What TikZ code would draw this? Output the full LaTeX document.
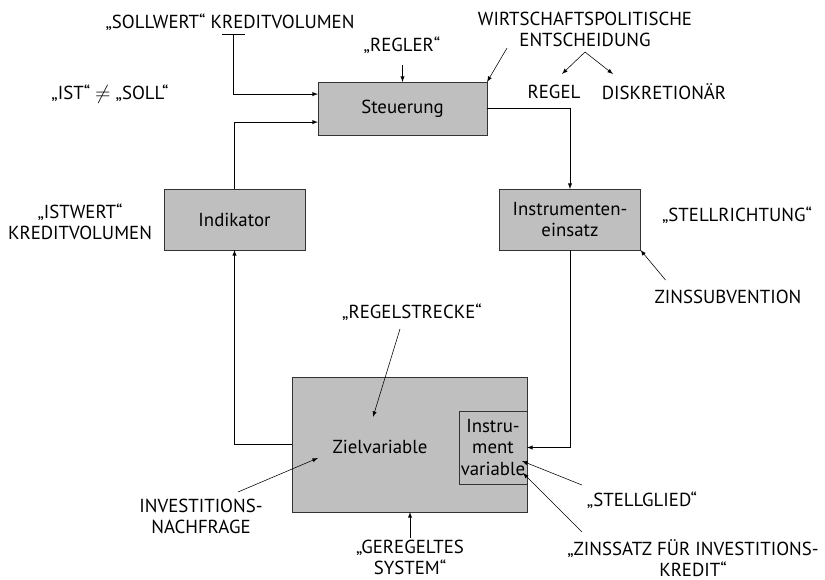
\documentclass[tikz,border=0pt]{standalone}
\usepackage{amsmath}
\usepackage{fontspec}
\setmainfont{PT Sans}
\usetikzlibrary{arrows}
\tikzset{>=latex}
\tikzset{
  blockbox/.style={draw=black!80,fill=gray!50,inner sep=0pt,outer sep=0pt,align=center},
  lbl/.style={inner sep=1pt,align=center}
}
\begin{document}
\begin{tikzpicture}[x=0.025cm,y=-0.025cm,font=\fontsize{13.4}{15}\selectfont]
                    \useasboundingbox (0,0) rectangle (825,580);
                    % Bloecke
                    \node[blockbox,minimum width=4.225cm,minimum height=1.325cm] (steuerung) at (402.5,108.5) {Steuerung};
                    \node[blockbox,minimum width=3.525cm,minimum height=1.525cm] (indikator) at (234.5,219.5) {Indikator};
                    \node[blockbox,minimum width=3.525cm,minimum height=1.525cm] (einsatz) at (570,219.5) {Instrumenten-\\einsatz};
                    \node[blockbox,minimum width=5.875cm,minimum height=3.375cm] (strecke) at (409.5,444.5) {\phantom{x}};
                    \node[blockbox,minimum width=1.7cm,minimum height=1.825cm] (instrvar) at (493,447.5) {Instru-\\ment\\variable};
                    \node[lbl] (zielvar) at (380,447) {Zielvariable};
                    % Beschriftungen
                    \node[lbl] (sollwert) at (230,22) {„SOLLWERT“ KREDITVOLUMEN};
                    \node[lbl] (regler) at (402,45) {„REGLER“};
                    \node[lbl] (wirtschaft) at (585,29) {WIRTSCHAFTSPOLITISCHE\\ENTSCHEIDUNG};
                    \node[lbl] (regel) at (554,92) {REGEL};
                    \node[lbl] (diskret) at (664,92) {DISKRETIONÄR};
                    \node[lbl] (istsoll) at (110,94) {„IST“ $\neq$ „SOLL“};
                    \node[lbl] (istwert) at (80,222) {„ISTWERT“\\KREDITVOLUMEN};
                    \node[lbl] (stellr) at (737,215) {„STELLRICHTUNG“};
                    \node[lbl] (zinssub) at (728,297) {ZINSSUBVENTION};
                    \node[lbl] (regelstr) at (412,312) {„REGELSTRECKE“};
                    \node[lbl] (invest) at (201,516) {INVESTITIONS-\\NACHFRAGE};
                    \node[lbl] (geregelt) at (410,557) {„GEREGELTES\\SYSTEM“};
                    \node[lbl] (stellglied) at (642,500) {„STELLGLIED“};
                    \node[lbl] (zinssatz) at (693,558) {„ZINSSATZ FÜR INVESTITIONS-\\KREDIT“};
                    % Regelkreis
                    \coordinate (sollT) at (233,34);
                    \draw (222,34) -- (245,34);
                    \draw[->] (sollT) |- ([yshift=0.36cm]steuerung.west);
                    \draw[->] (indikator.north) |- ([yshift=-0.34cm]steuerung.west);
                    \draw[->] (steuerung.east) -| (einsatz.north);
                    \draw[->] (einsatz.south) |- (instrvar.east);
                    \draw[->] (strecke.west) -| (indikator.south);
                    % Hinweispfeile
                    \draw[<-] (steuerung.north) -- ++(0,-17);
                    \draw[<-] (steuerung.north east) -- ++(20,-34);
                    \coordinate (apex) at (585,52);
                    \draw[->] (apex) -- ++(-23,22);
                    \draw[->] (apex) -- ++(28,22);
                    \draw[<-] (einsatz.south east) -- ++(25,30);
                    \coordinate (zielpt) at (373,417);
                    \draw[->] (400,329) -- (zielpt);
                    \draw[->] (238,492) -- (318,458);
                    \draw[->] (geregelt.north) -- (geregelt.north |- strecke.south);
                    \draw[->] (582,485) -- (522,461);
                    \draw[->] (582,532) -- (523,473);
                \end{tikzpicture}
\end{document}
